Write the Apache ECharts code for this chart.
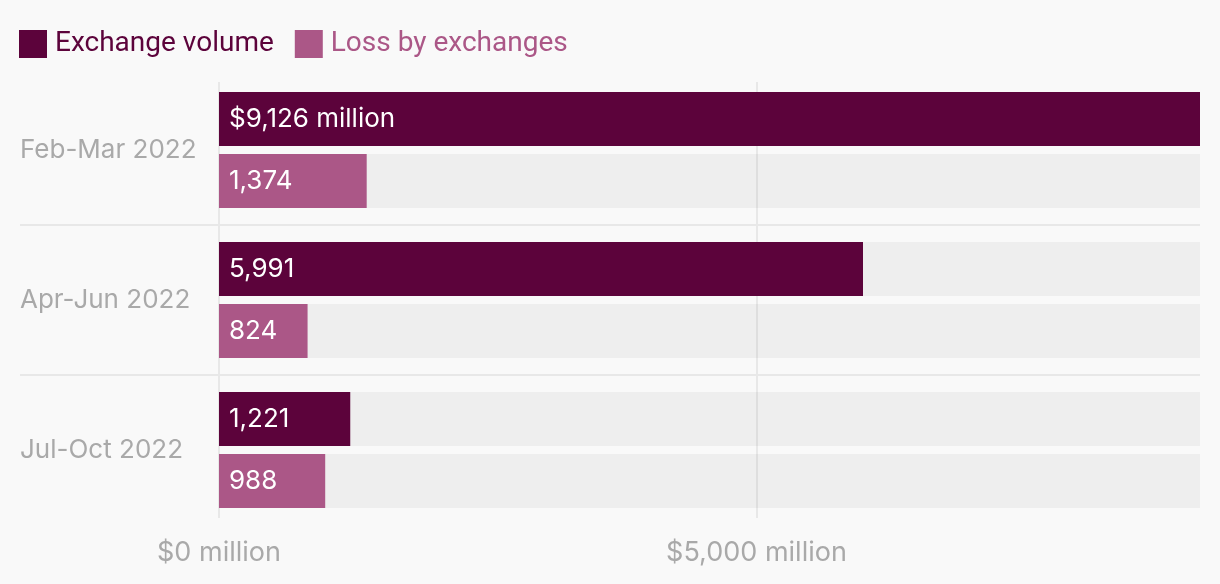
<!DOCTYPE html>
<html>
<head>
<meta charset="utf-8">
<script src="https://cdn.jsdelivr.net/npm/echarts@6/dist/echarts.min.js"></script>
<style>
html,body{margin:0;padding:0;background:#f9f9f9;}
#chart{width:1220px;height:584px;}
</style>
</head>
<body>
<div id="chart"></div>
<script>
const categories = ['Feb-Mar 2022', 'Apr-Jun 2022', 'Jul-Oct 2022'];
const exchangeVolume = [9126, 5991, 1221];
const lossByExchanges = [1374, 824, 988];
const seriesNames = ['Exchange volume', 'Loss by exchanges'];
const xTicks = [0, 5000];

const colVol = '#5c033b';
const colLoss = '#ab5787';
const gridColor = '#e8e8e8';
const labelFont = 'Inter, "Noto Sans", sans-serif';

function fmt(v) { return v.toLocaleString('en-US'); }

const chart = echarts.init(document.getElementById('chart'));
const xMax = exchangeVolume[0];

chart.setOption({
  backgroundColor: '#f9f9f9',
  animation: false,
  legend: {
    left: 14, top: 25,
    itemWidth: 28, itemHeight: 28, itemGap: 21,
    icon: 'rect',
    textStyle: { fontSize: 28, fontFamily: 'Roboto, sans-serif', padding: [0, 0, 0, 3] },
    data: [
      { name: seriesNames[0], textStyle: { color: colVol } },
      { name: seriesNames[1], textStyle: { color: colLoss } }
    ]
  },
  grid: [
    { left: 219, right: 20, top: 75, bottom: 59 },
    { left: 20, right: 20, top: 75, bottom: 59 },
    { left: 219, right: 20, top: 82, bottom: 66 }
  ],
  xAxis: [
    { gridIndex: 0, type: 'value', min: 0, max: xMax, show: false },
    { gridIndex: 1, type: 'value', show: false },
    {
      gridIndex: 2, type: 'value', min: 0, max: xMax, interval: xTicks[1] - xTicks[0],
      axisLine: { show: false }, axisTick: { show: false },
      splitLine: { show: true, showMaxLine: false, lineStyle: { color: gridColor, width: 2 } },
      axisLabel: {
        margin: 21, showMaxLabel: false,
        color: '#a9a9a9', fontSize: 27, fontFamily: labelFont,
        formatter: v => xTicks.indexOf(v) >= 0 ? '$' + fmt(v) + ' million' : ''
      }
    }
  ],
  yAxis: [
    {
      gridIndex: 0, type: 'category', data: categories, inverse: true,
      axisLine: { show: false }, axisTick: { show: false }, splitLine: { show: false },
      axisLabel: { align: 'left', margin: 199, color: '#a9a9a9', fontSize: 26, fontFamily: labelFont }
    },
    {
      gridIndex: 1, type: 'category', data: categories, inverse: true,
      axisLine: { show: false }, axisTick: { show: false }, axisLabel: { show: false },
      splitLine: { show: true, showMinLine: false, showMaxLine: false, lineStyle: { color: gridColor, width: 2 } }
    },
    {
      gridIndex: 2, type: 'category', data: categories, inverse: true, show: false
    }
  ],
  series: [
    {
      name: seriesNames[0], type: 'bar', xAxisIndex: 0, yAxisIndex: 0,
      data: exchangeVolume, barWidth: 54, barGap: '14.8%',
      itemStyle: { color: colVol },
      showBackground: true, backgroundStyle: { color: 'rgba(0,0,0,0.044)' },
      label: {
        show: true, position: 'insideLeft', distance: 10, color: '#fff',
        fontSize: 26, fontFamily: labelFont,
        formatter: p => p.dataIndex === 0 ? '$' + fmt(p.value) + ' million' : fmt(p.value)
      },
      z: 3
    },
    {
      name: seriesNames[1], type: 'bar', xAxisIndex: 0, yAxisIndex: 0,
      data: lossByExchanges, barWidth: 54, barGap: '14.8%',
      itemStyle: { color: colLoss },
      showBackground: true, backgroundStyle: { color: 'rgba(0,0,0,0.044)' },
      label: {
        show: true, position: 'insideLeft', distance: 10, color: '#fff',
        fontSize: 26, fontFamily: labelFont,
        formatter: p => fmt(p.value)
      },
      z: 3
    }
  ]
});
</script>
</body>
</html>
